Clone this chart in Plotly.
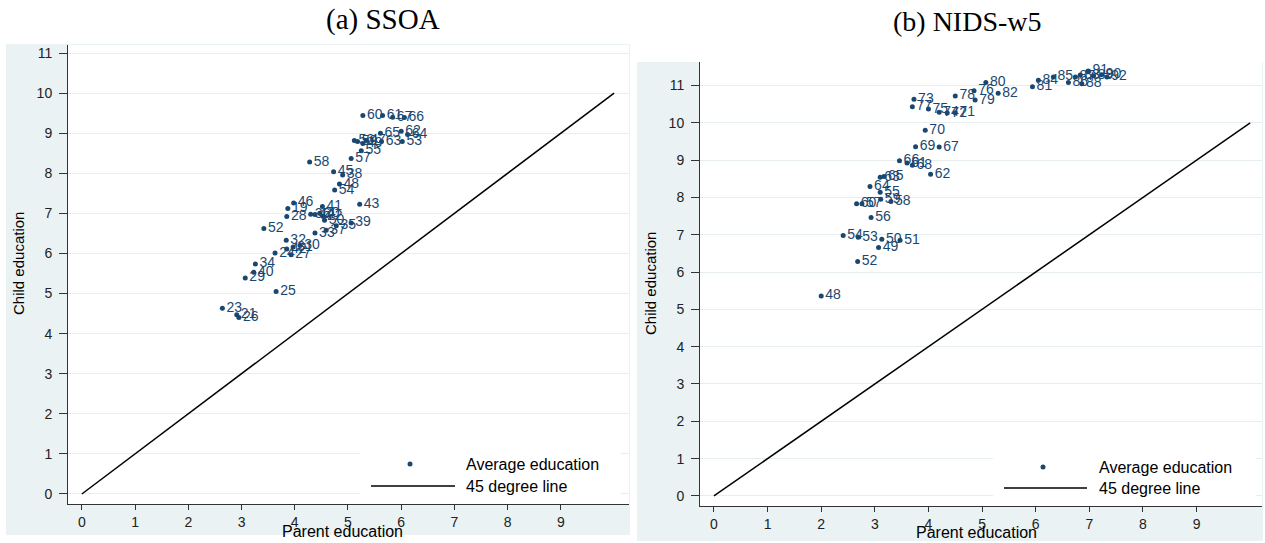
import plotly.graph_objects as go

# ---------------- data ----------------
ssoa_labels = [19, 20, 21, 22, 23, 24, 25, 26, 27, 28, 29, 30, 31, 32, 33, 34, 35, 36, 37, 38, 39,
               40, 41, 42, 43, 44, 45, 46, 47, 48, 49, 50, 52, 53, 54, 55, 56, 57, 58,
               59, 60, 61, 62, 63, 64, 65, 66, 67]
ssoa_parent = [3.87, 4.47, 2.91, 4.53, 2.64, 3.63, 3.65, 2.95, 3.93, 3.85, 3.07, 4.10, 3.97, 3.84, 4.38, 3.26, 4.78, 4.30, 4.59, 4.90, 5.06,
               3.23, 4.52, 3.85, 5.22, 4.38, 4.73, 3.98, 5.34, 4.84, 5.28, 4.56, 3.42, 6.02, 4.75, 5.25, 5.12, 5.06, 4.28,
               5.18, 5.28, 5.65, 6.00, 5.63, 6.12, 5.61, 6.06, 5.84]
ssoa_child = [7.12, 7.00, 4.47, 6.93, 4.63, 6.01, 5.05, 4.40, 5.97, 6.92, 5.39, 6.20, 6.16, 6.33, 6.51, 5.74, 6.69, 6.98, 6.58, 7.96, 6.76,
              5.53, 7.17, 6.11, 7.23, 6.97, 8.04, 7.26, 8.82, 7.73, 8.74, 6.83, 6.62, 8.79, 7.58, 8.56, 8.82, 8.37, 8.28,
              8.79, 9.44, 9.44, 9.05, 8.79, 8.97, 9.00, 9.39, 9.40]

nids_labels = [48, 49, 50, 51, 52, 53, 54, 55, 56, 57, 58, 59, 60, 61, 62, 63, 64, 65, 66, 67, 68, 69, 70,
               71, 72, 73, 74, 75, 76, 77, 78, 79, 80, 81, 82, 83, 84, 85, 86, 87, 88, 89, 90, 91, 92]
nids_parent = [2.00, 3.07, 3.13, 3.47, 2.68, 2.69, 2.41, 3.10, 2.93, 2.76, 3.30, 3.11, 2.66, 3.60, 4.04, 3.10, 2.91, 3.17, 3.46, 4.20, 3.70, 3.76, 3.94,
               4.50, 4.35, 3.73, 4.20, 4.00, 4.85, 3.70, 4.50, 4.87, 5.07, 5.94, 5.30, 6.83, 6.05, 6.33, 6.61, 6.74, 6.86, 7.08, 7.23, 6.98, 7.33]
nids_child = [5.36, 6.66, 6.88, 6.85, 6.28, 6.93, 6.98, 8.14, 7.46, 7.83, 7.89, 7.95, 7.83, 8.92, 8.62, 8.54, 8.29, 8.56, 8.98, 9.35, 8.86, 9.36, 9.80,
              10.27, 10.26, 10.63, 10.28, 10.37, 10.86, 10.43, 10.72, 10.61, 11.08, 10.97, 10.79, 11.28, 11.14, 11.23, 11.08, 11.23, 11.05, 11.26, 11.29, 11.39, 11.23]

line45_x = [0, 10]
line45_y = [0, 10]

x_ticks = list(range(0, 10))
y_ticks = list(range(0, 12))

panel_titles = ["(a) SSOA", "(b) NIDS-w5"]
x_title = "Parent education"
y_title = "Child education"
legend_texts = ["Average education", "45 degree line"]

# ---------------- style ----------------
FW, FH = 1265, 543
NAVY = "#1a476f"
BG = "#eaf2f3"
GRID = "#e6eeef"
FONT = "Liberation Sans, Arial, sans-serif"


def px(x):
    return min(1.0, max(0.0, x / FW))


def py(y):
    return min(1.0, max(0.0, 1 - y / FH))


fig = go.Figure()

panels = [
    dict(xa="x", ya="y", labels=ssoa_labels, px_=ssoa_parent, py_=ssoa_child,
         dom_x=(68, 629), dom_y=(45, 504), xr=(-0.26, 10.28), yr=(-0.25, 11.2),
         bg=(6, 44, 630, 535)),
    dict(xa="x2", ya="y2", labels=nids_labels, px_=nids_parent, py_=nids_child,
         dom_x=(700, 1262), dom_y=(62, 506), xr=(-0.26, 10.22), yr=(-0.27, 11.63),
         bg=(637, 62, 1263, 541)),
]

shapes = []
annotations = []

for i, p in enumerate(panels):
    fig.add_trace(go.Scatter(
        x=p["px_"], y=p["py_"], text=[str(v) for v in p["labels"]],
        mode="markers+text", textposition="middle right",
        marker=dict(color=NAVY, size=5),
        textfont=dict(color=NAVY, size=14, family=FONT),
        xaxis=p["xa"], yaxis=p["ya"], showlegend=False, cliponaxis=False,
        hoverinfo="skip"))
    fig.add_trace(go.Scatter(
        x=line45_x, y=line45_y, mode="lines",
        line=dict(color="black", width=1.5),
        xaxis=p["xa"], yaxis=p["ya"], showlegend=False, hoverinfo="skip"))

    x0, y0, x1, y1 = p["bg"]
    shapes.append(dict(type="rect", xref="paper", yref="paper", layer="below",
                       x0=px(x0), x1=px(x1), y0=py(y1), y1=py(y0),
                       fillcolor=BG, line=dict(width=0)))
    shapes.append(dict(type="rect", xref="paper", yref="paper", layer="below",
                       x0=px(p["dom_x"][0]), x1=px(p["dom_x"][1]),
                       y0=py(p["dom_y"][1]), y1=py(p["dom_y"][0]),
                       fillcolor="white", line=dict(width=0)))

axis_common = dict(showline=True, linecolor="#333333", linewidth=1, ticks="outside",
                   tickcolor="#333333", tickfont=dict(size=14, family=FONT, color="#222222"),
                   zeroline=False)
fig.update_layout(
    xaxis=dict(domain=[px(68), px(629)], range=list(panels[0]["xr"]), anchor="y",
               tickvals=x_ticks, ticklen=5, showgrid=False, **axis_common),
    yaxis=dict(domain=[py(504), py(45)], range=list(panels[0]["yr"]), anchor="x",
               tickvals=y_ticks, ticklen=8, showgrid=True, gridcolor=GRID, gridwidth=1,
               ticklabelstandoff=4, **axis_common),
    xaxis2=dict(domain=[px(700), px(1262)], range=list(panels[1]["xr"]), anchor="y2",
                tickvals=x_ticks, ticklen=5, showgrid=False, **axis_common),
    yaxis2=dict(domain=[py(506), py(62)], range=list(panels[1]["yr"]), anchor="x2",
                tickvals=y_ticks, ticklen=8, showgrid=True, gridcolor=GRID, gridwidth=1,
                ticklabelstandoff=4, **axis_common),
)

for txt, cx, cy, sz in [(panel_titles[0], 383, 19, 29), (panel_titles[1], 967, 21, 28)]:
    annotations.append(dict(text=txt, x=px(cx), y=py(cy), xref="paper", yref="paper",
                            showarrow=False, xanchor="center", yanchor="middle",
                            font=dict(family="Liberation Serif, Times New Roman, serif",
                                      size=sz, color="black")))
for cx, cy in [(342, 531), (976, 532)]:
    annotations.append(dict(text=x_title, x=px(cx), y=py(cy), xref="paper", yref="paper",
                            showarrow=False, xanchor="center", yanchor="middle",
                            font=dict(family=FONT, size=16, color="black")))
for cx, cy in [(18, 264), (650, 284)]:
    annotations.append(dict(text=y_title, x=px(cx), y=py(cy), xref="paper", yref="paper",
                            showarrow=False, xanchor="center", yanchor="middle", textangle=-90,
                            font=dict(family=FONT, size=15, color="black")))

legends = [
    dict(box=(360, 449, 621, 501), dot=(410, 464), line=(371, 455, 486), tx=464),
    dict(box=(993, 452, 1256, 505), dot=(1043, 467), line=(1004, 1087, 488), tx=1097),
]
for lg in legends:
    bx0, by0, bx1, by1 = lg["box"]
    shapes.append(dict(type="rect", xref="paper", yref="paper", layer="above",
                       x0=px(bx0), x1=px(bx1), y0=py(by1), y1=py(by0),
                       fillcolor="white", line=dict(width=0)))
    dx, dy = lg["dot"]
    r = 2.5
    shapes.append(dict(type="circle", xref="paper", yref="paper", layer="above",
                       x0=px(dx - r), x1=px(dx + r), y0=py(dy + r), y1=py(dy - r),
                       fillcolor=NAVY, line=dict(width=0)))
    lx0, lx1, ly = lg["line"]
    shapes.append(dict(type="line", xref="paper", yref="paper", layer="above",
                       x0=px(lx0), x1=px(lx1), y0=py(ly), y1=py(ly),
                       line=dict(color="black", width=1.5)))
    for t, yy in [(legend_texts[0], dy), (legend_texts[1], ly)]:
        annotations.append(dict(text=t, x=px(lg["tx"]), y=py(yy), xref="paper", yref="paper",
                                showarrow=False, xanchor="left", yanchor="middle",
                                font=dict(family=FONT, size=16, color="black")))

fig.update_layout(
    width=FW, height=FH, margin=dict(l=0, r=0, t=0, b=0),
    paper_bgcolor="white", plot_bgcolor="rgba(0,0,0,0)",
    shapes=shapes, annotations=annotations, showlegend=False,
)

fig.write_html("out.html", config={"displayModeBar": False},
               post_script="document.body.style.margin='0px';document.body.style.overflow='hidden';")
